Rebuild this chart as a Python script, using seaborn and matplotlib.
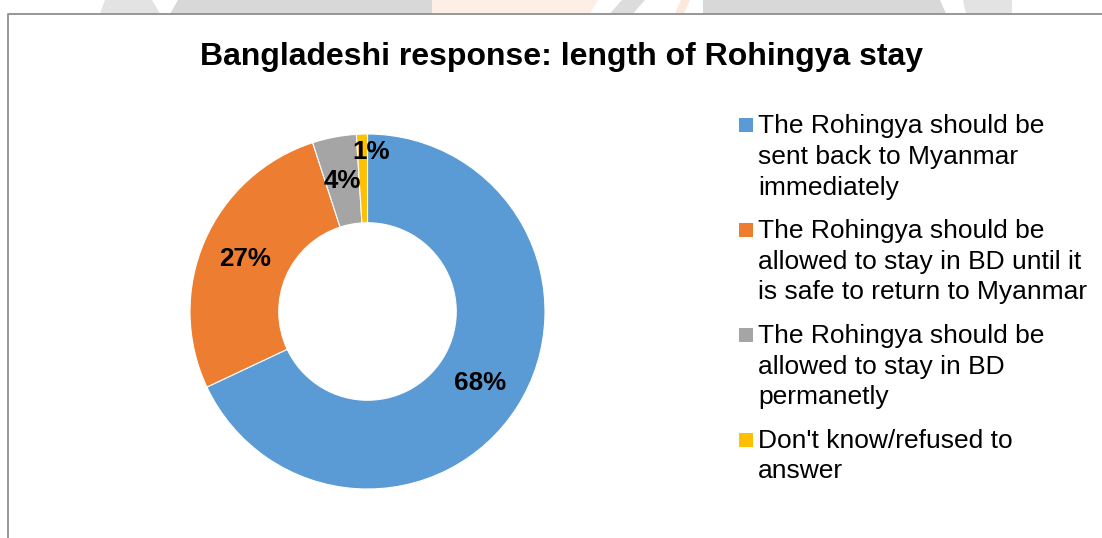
import numpy as np
import matplotlib
matplotlib.use("Agg")
import matplotlib.pyplot as plt
from matplotlib.patches import Rectangle, Polygon
from matplotlib.lines import Line2D
import seaborn as sns

# Survey answers (share of respondents, %)
categories = [
    "The Rohingya should be\nsent back to Myanmar\nimmediately",
    "The Rohingya should be\nallowed to stay in BD until it\nis safe to return to Myanmar",
    "The Rohingya should be\nallowed to stay in BD\npermanetly",
    "Don't know/refused to\nanswer",
]
shares = [68, 27, 4, 1]
colors = ["#5B9BD5", "#ED7D31", "#A5A5A5", "#FFC000"]
title = "Bangladeshi response: length of Rohingya stay"

sns.set_theme(style="white")
plt.rcParams["font.family"] = ["Liberation Sans", "DejaVu Sans"]

W, H = 1102, 538
fig = plt.figure(figsize=(W / 100, H / 100), dpi=100)
fig.patch.set_facecolor("white")


def fx(px):
    return px / W


def fy(py):
    return 1 - py / H


# faint page header strip above the chart frame
strip = [
    ((105, 152, 160, 100), "#e3e3e3"),
    ((178, 432, 432, 170), "#d8d8d8"),
    ((432, 598, 590, 432), "#fdeee6"),
    ((622, 645, 633, 610), "#dcdcdc"),
    ((681, 690, 684, 675), "#fde6da"),
    ((703, 940, 946, 703), "#d8d8d8"),
    ((963, 1012, 1012, 966), "#e3e3e3"),
]
for (xt0, xt1, xb1, xb0), c in strip:
    fig.add_artist(Polygon([(fx(xt0), fy(0)), (fx(xt1), fy(0)), (fx(xb1), fy(13.5)), (fx(xb0), fy(13.5))],
                           closed=True, transform=fig.transFigure, facecolor=c, edgecolor="none"))

# chart frame (left and top edges visible)
fig.add_artist(Line2D([fx(8), fx(8), fx(W + 5)], [fy(H + 5), fy(14), fy(14)],
                      transform=fig.transFigure, color="#8f8f8f", linewidth=1.3))

# donut
cx, cy, R = 367.5, 311.5, 177.5
ax = fig.add_axes([fx(cx - R), fy(cy + R), 2 * R / W, 2 * R / H])
wedges, _ = ax.pie(shares, colors=colors, startangle=90, counterclock=False,
                   radius=1.0, wedgeprops=dict(width=0.5, edgecolor="white", linewidth=0.8))
ax.set_xlim(-1, 1)
ax.set_ylim(-1, 1)
ax.set_aspect("equal")
ax.axis("off")

for w, v in zip(wedges, shares):
    mid = np.deg2rad((w.theta1 + w.theta2) / 2)
    r = 0.75 if v >= 3 else 0.9
    ax.text(r * np.cos(mid) + (0.05 if v < 3 else 0), r * np.sin(mid), f"{v}%",
            ha="center", va="center", fontsize=18.7, fontweight="bold", color="black")

# title
fig.text(fx(562), fy(65), title, ha="center", va="baseline",
         fontsize=23, fontweight="bold", color="black")

# legend
line_h, gap = 30.6, 13.0
base = 133.3
for label, c in zip(categories, colors):
    lines = label.split("\n")
    fig.add_artist(Rectangle((fx(739), fy(base - 1)), 14 / W, 14 / H,
                             transform=fig.transFigure, facecolor=c, edgecolor="none"))
    for i, ln in enumerate(lines):
        fig.text(fx(758), fy(base + i * line_h), ln, ha="left", va="baseline",
                 fontsize=19, color="black")
    base += len(lines) * line_h + gap

fig.savefig("out.png", dpi=100, facecolor="white")
